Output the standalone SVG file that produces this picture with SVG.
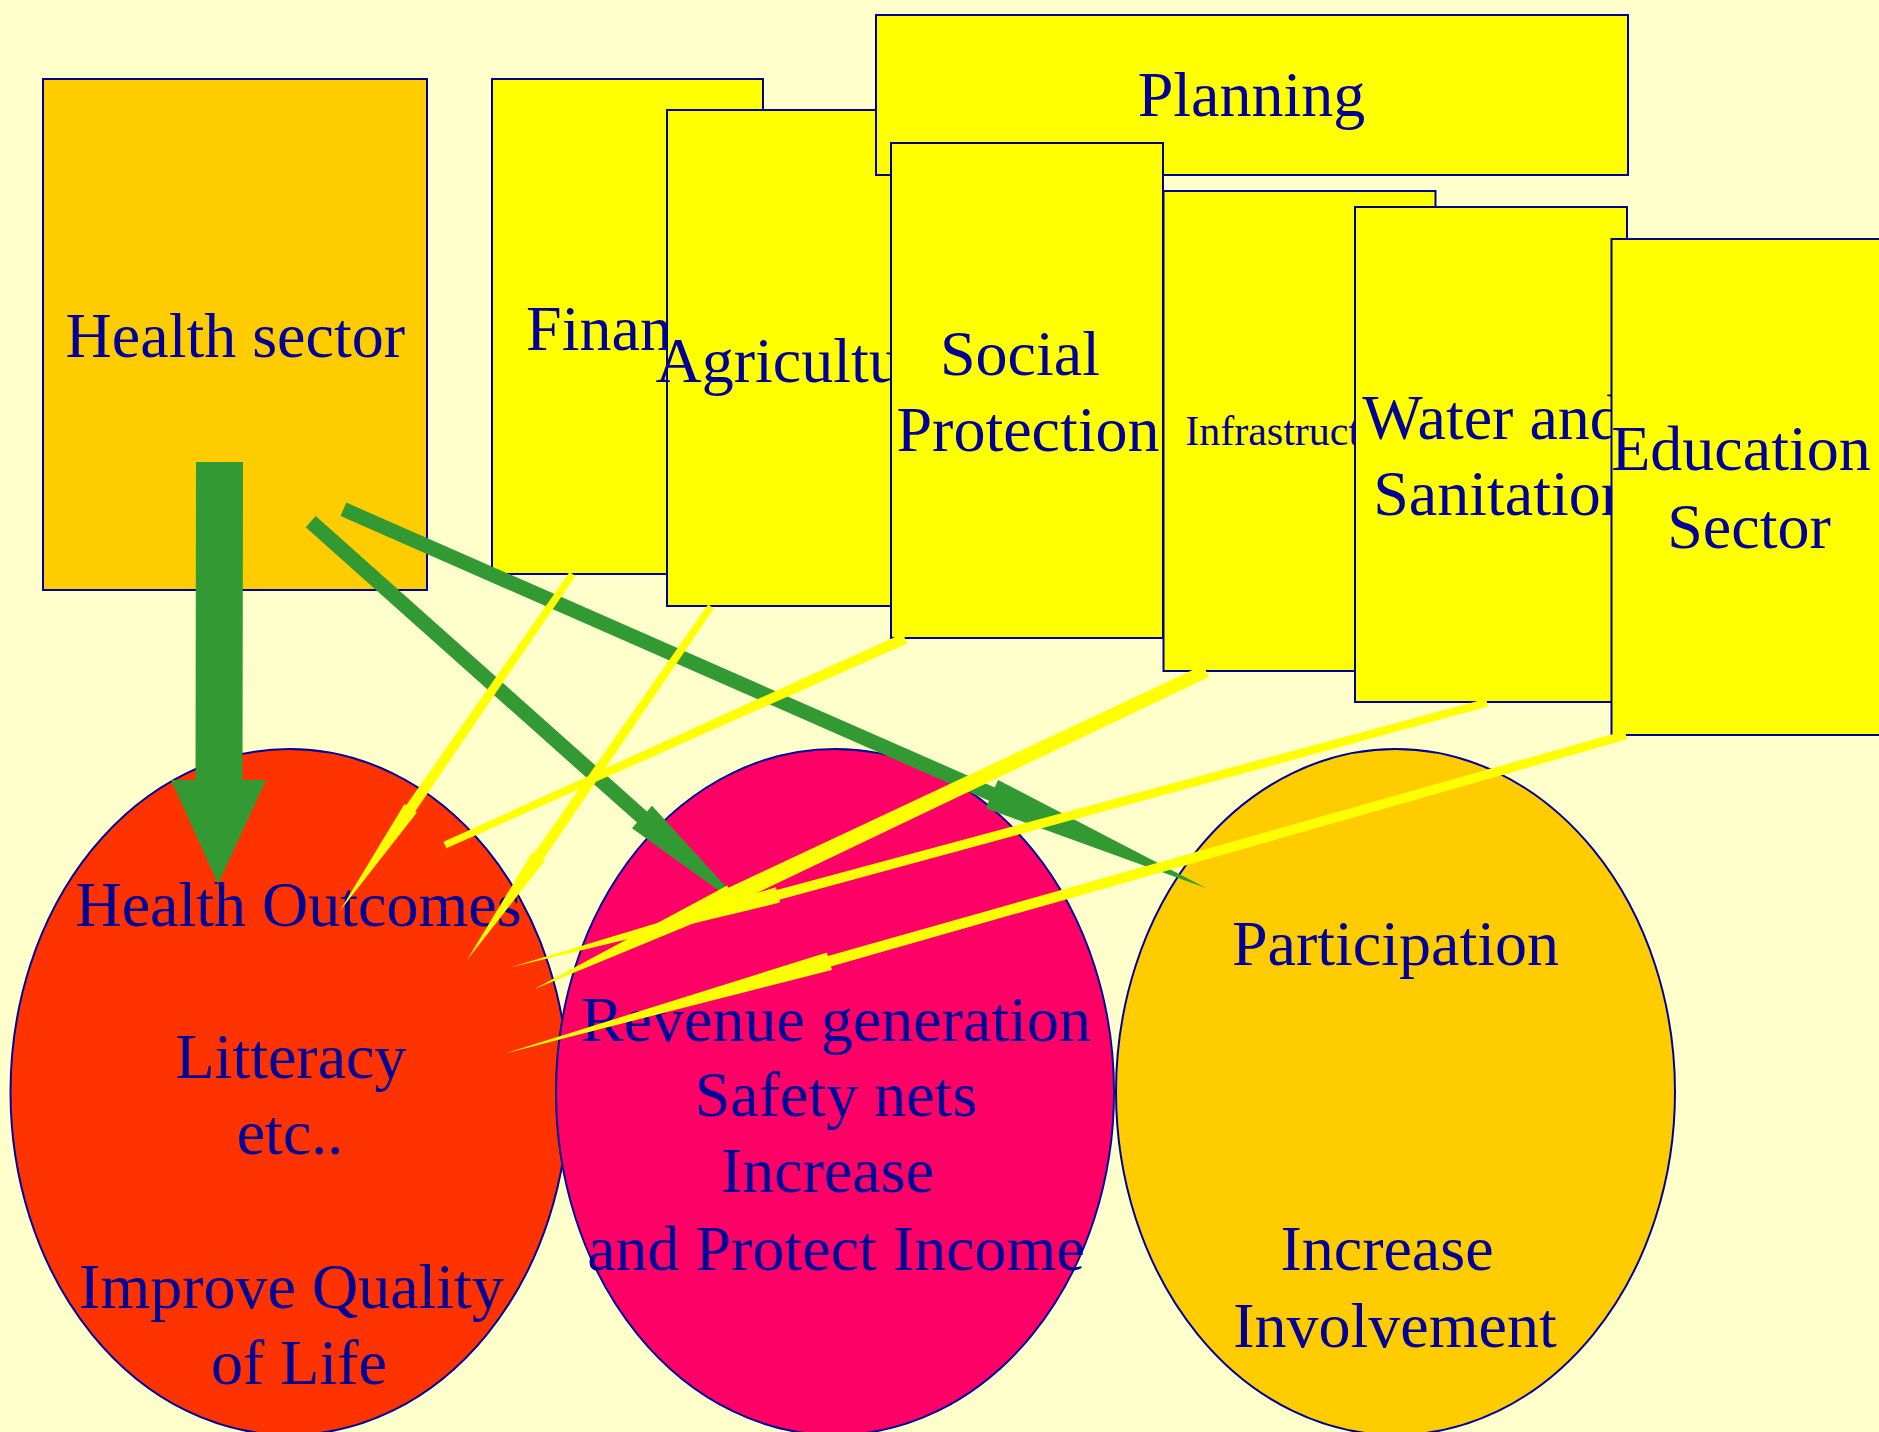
<svg xmlns="http://www.w3.org/2000/svg" width="1879" height="1432" viewBox="0 0 1879 1432">
<style>
.t{font-family:"Liberation Serif","Times New Roman",serif;font-size:64px;fill:#000099;text-anchor:middle}
.s{font-size:42px}
.box{stroke:#000099;stroke-width:2}
.y{fill:#FFFF00}
.g{fill:#339933}
.a{fill:#FFFF00}
</style>
<rect x="0" y="0" width="1879" height="1432" fill="#FFFFCC"/>
<g id="outcomes">
<ellipse class="box" cx="289.5" cy="1092" rx="279" ry="343" fill="#FF3300"/>
<text class="t" x="298.5" y="926">Health Outcomes</text>
<text class="t" x="291" y="1078">Litteracy</text>
<text class="t" x="290" y="1154">etc..</text>
<text class="t" x="291.5" y="1308">Improve Quality</text>
<text class="t" x="299" y="1384">of Life</text>
</g>
<g id="income">
<ellipse class="box" cx="835" cy="1092" rx="279" ry="343" fill="#FF0066"/>
<text class="t" x="836" y="1041">Revenue generation</text>
<text class="t" x="836" y="1116">Safety nets</text>
<text class="t" x="827.5" y="1192">Increase</text>
<text class="t" x="836" y="1270">and Protect Income</text>
</g>
<g id="participation">
<ellipse class="box" cx="1395.5" cy="1092" rx="279.5" ry="343" fill="#FFCC00"/>
<text class="t" x="1395.5" y="965">Participation</text>
<text class="t" x="1387" y="1270">Increase</text>
<text class="t" x="1395" y="1347">Involvement</text>
</g>
<g id="health">
<rect class="box" x="43" y="79" width="384" height="511" fill="#FFCC00"/>
<text class="t" x="235.3" y="357">Health sector</text>
</g>
<g id="finance">
<rect class="box y" x="492" y="79" width="271" height="495"/>
<text class="t" x="627.4" y="350">Finance</text>
</g>
<g id="agriculture">
<rect class="box y" x="667" y="110" width="272" height="496"/>
<text class="t" x="803" y="382">Agriculture</text>
</g>
<g id="planning">
<rect class="box y" x="876" y="15" width="752" height="160"/>
<text class="t" x="1251.5" y="116">Planning</text>
</g>
<g id="social">
<rect class="box y" x="891" y="143" width="272" height="495"/>
<text class="t" x="1020" y="375">Social</text>
<text class="t" x="1028" y="451">Protection</text>
</g>
<g id="infrastructure">
<rect class="box y" x="1163.5" y="191" width="272" height="480"/>
<text class="t s" x="1299.5" y="445">Infrastructure</text>
</g>
<g id="water">
<rect class="box y" x="1355" y="207" width="272" height="495"/>
<text class="t" x="1492" y="439">Water and</text>
<text class="t" x="1503" y="515">Sanitation</text>
</g>
<g id="education">
<rect class="box y" x="1611.5" y="239" width="272" height="496"/>
<text class="t" x="1741" y="470">Education</text>
<text class="t" x="1749" y="548">Sector</text>
</g>
<g id="connectors">
<polygon class="g" points="196,462 243,462 242.5,780 266,780 218,884 171,780 195.5,780"/>
<polygon class="g" points="315.7,516.1 647.0,811.4 652.0,805.8 750,913 632.0,828.2 637.0,822.6 305.7,527.3"/>
<polygon class="g" points="346.3,502.6 994.8,787.4 998.1,779.9 1206.5,888.3 985.7,808.3 989.0,800.8 340.5,516.0"/>
<polygon class="a" points="569.6,572.0 406.2,805.2 404.5,804.0 339.3,911.7 416.9,812.6 415.2,811.4 575.4,576.0"/>
<polygon class="a" points="708.1,604.5 534.1,853.3 532.4,852.1 467.1,960 544.8,860.7 543.1,859.5 713.9,608.5"/>
<polygon class="a" points="902.7,633.4 443.6,841.8 446.4,848.2 907.3,643.4"/>
<polygon class="a" points="1203.2,665.1 728.4,887.8 727.3,885.6 533.9,989.3 736.7,905.4 735.6,903.2 1208.8,676.9"/>
<polygon class="a" points="1486.0,698.8 776.7,890.1 775.9,887.2 510.7,967.3 780.1,902.6 779.3,899.7 1488.0,706.6"/>
<polygon class="a" points="1624.8,730.7 827.9,955.9 826.9,952.5 505.4,1053.3 831.9,969.9 830.9,966.5 1627.2,739.3"/>
</g>
</svg>
